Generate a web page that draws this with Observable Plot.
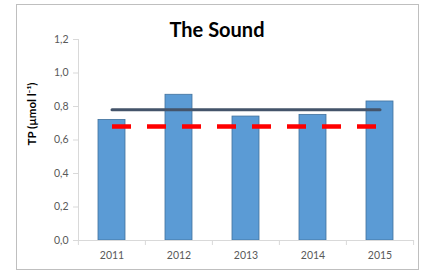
<!DOCTYPE html>
<html><head><meta charset="utf-8">
<script src="https://cdn.jsdelivr.net/npm/d3@7"></script>
<script src="https://cdn.jsdelivr.net/npm/@observablehq/plot@0.6"></script>
<style>
body{margin:0;background:#fff;}
#wrap{position:relative;width:424px;height:273px;font-family:Lato,"Liberation Sans",sans-serif;}
#border{position:absolute;left:16px;top:4px;width:403px;height:266px;border:1px solid #bfbfbf;box-sizing:border-box;pointer-events:none;}
#title{position:absolute;left:0;width:434px;top:19px;text-align:center;font-weight:bold;font-size:20px;line-height:1;color:#000;}
#chart{position:absolute;left:0;top:0;}
</style></head>
<body>
<div id="wrap"><div id="chart"></div><div id="title">The Sound</div><div id="border"></div></div>
<script>
const years = ["2011","2012","2013","2014","2015"];
const tp = [0.72, 0.87, 0.74, 0.75, 0.83];
const average = 0.78;
const target = 0.68;
const yTicks = [0, 0.2, 0.4, 0.6, 0.8, 1.0, 1.2];
const yLabel = "TP (µmol l⁻¹)";

const bars = years.map((y, i) => ({year: y, tp: tp[i]}));
const avgLine = years.map(y => ({year: y, v: average}));
const tgtLine = years.map(y => ({year: y, v: target}));

const W = 424, ML = 78, MR = 10;
const step = (W - ML - MR) / years.length;

const chart = Plot.plot({
  width: W, height: 273,
  marginLeft: ML, marginRight: MR, marginTop: 39, marginBottom: 33,
  style: {fontFamily: "Lato, 'Liberation Sans', sans-serif", fontSize: "10.5px", color: "#595959", background: "transparent"},
  x: {type: "band", domain: years, paddingInner: 0.59, paddingOuter: 0.295, axis: null},
  y: {domain: [0, 1.2], axis: null},
  marks: [
    Plot.barY(bars, {x: "year", y: "tp", fill: "#5b9bd5", stroke: "#41719c", strokeWidth: 0.8}),
    Plot.frame({anchor: "left", stroke: "#d9d9d9"}),
    Plot.ruleY([0], {stroke: "#d9d9d9"}),
    Plot.axisY({ticks: yTicks, tickSize: 5, tickPadding: 5, tickFormat: d => d.toFixed(1).replace(".", ","), stroke: "#d9d9d9", fill: "#595959", label: null}),
    Plot.axisX({tickSize: 5, dx: -step / 2, tickFormat: () => "", stroke: "#d9d9d9", label: null}),
    Plot.axisX([years[years.length - 1]], {tickSize: 5, dx: step / 2, tickFormat: () => "", stroke: "#d9d9d9", label: null}),
    Plot.axisX({tickSize: 0, tickPadding: 11, fill: "#595959", label: null}),
    Plot.text([yLabel], {text: d => d, frameAnchor: "left", textAnchor: "middle", rotate: -90, dx: -46, dy: -26, fontWeight: "bold", fontSize: 11.5, fill: "#000"}),
    Plot.lineY(avgLine, {x: "year", y: "v", stroke: "#44546a", strokeWidth: 3, strokeLinecap: "round"}),
    Plot.lineY(tgtLine, {x: "year", y: "v", stroke: "#ff0000", strokeWidth: 4.5, strokeDasharray: "19,16", strokeLinecap: "butt"})
  ]
});
document.getElementById("chart").appendChild(chart);
</script>
</body></html>
